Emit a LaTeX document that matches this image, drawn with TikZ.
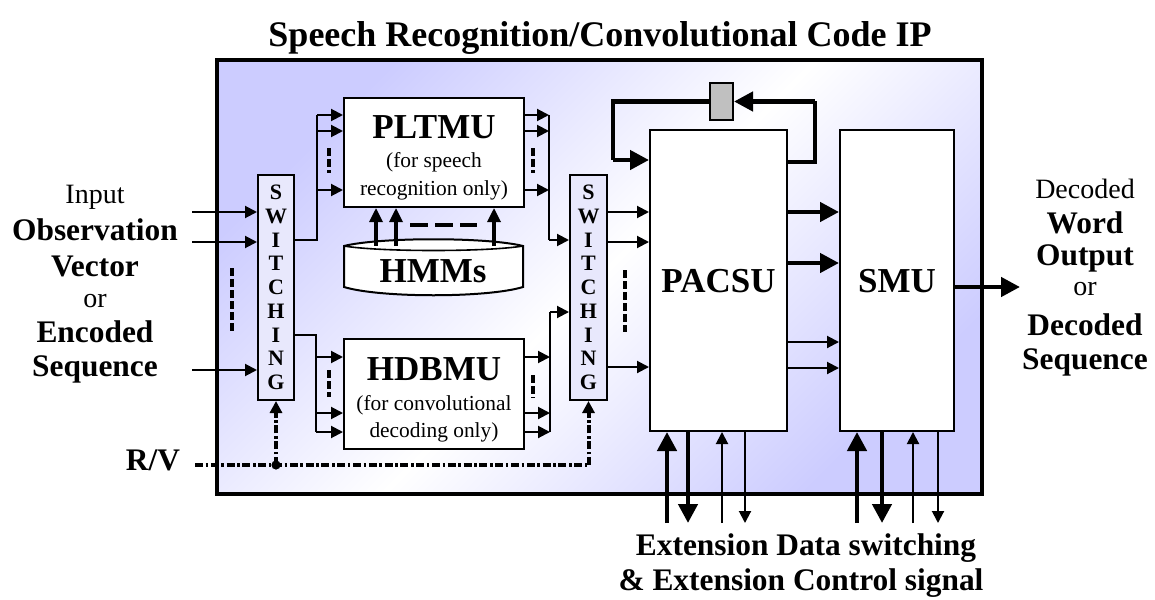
\documentclass[tikz,border=0pt]{standalone}
\usepackage{fontspec}
\setmainfont{Liberation Serif}
\usetikzlibrary{arrows.meta}
\definecolor{lav}{RGB}{204,204,255}
\definecolor{swfill}{RGB}{232,232,252}
\definecolor{regfill}{RGB}{192,192,192}
\tikzset{
  blk/.style={draw, line width=1pt, fill=white, inner sep=0pt},
  swbox/.style={draw, line width=1pt, fill=swfill, inner sep=0pt, align=center,
    font=\fontsize{11}{11.875}\selectfont\bfseries},
  wire/.style={line width=1pt},
  thinarr/.style={line width=1pt, -{Triangle[length=6pt,width=6pt]}},
  midarr/.style={line width=1.6pt, -{Triangle[length=7pt,width=6.5pt]}},
  thickarr/.style={line width=2.2pt, -{Triangle[length=9.5pt,width=9.5pt]}},
  thickwire/.style={line width=2.2pt},
  gap/.style={line width=1.6pt, dash pattern=on 4pt off 1.5pt},
  hgap/.style={line width=2pt, dash pattern=on 9pt off 3.5pt},
  ctrl/.style={line width=2pt, dash pattern=on 4pt off 1.3pt on 1.3pt off 1.3pt},
  ctrlarr/.style={ctrl, -{Triangle[length=6pt,width=6pt]}},
  lbl/.style={anchor=base, inner sep=0pt},
  bigb/.style={lbl, font=\fontsize{15.7}{18}\selectfont\bfseries},
  smallr/.style={lbl, font=\fontsize{14}{16}\selectfont},
  blockname/.style={lbl, font=\fontsize{17.5}{20}\selectfont\bfseries},
  note/.style={lbl, font=\fontsize{10.7}{12}\selectfont},
}
\begin{document}
\begin{tikzpicture}[x=0.5pt, y=-0.5pt]
\useasboundingbox (0,0) rectangle (1155,599);

% IP core frame with diagonal shading
\node[draw, line width=1.75pt, minimum width=382.5pt, minimum height=217pt, inner sep=0pt,
      top color=lav, bottom color=lav, middle color=white, shading angle=45]
      (ip) at (599.5,277) {};
\node[lbl, font=\fontsize{18}{20}\selectfont\bfseries] (title) at (600,47)
      {Speech Recognition/Convolutional Code IP};

% functional blocks
\node[blk, minimum width=90pt, minimum height=54.5pt] (pltmu) at (434,152.5) {};
\node[blk, minimum width=90pt, minimum height=55pt] (hdbmu) at (434,394) {};
\node[swbox, minimum width=18pt, minimum height=112.5pt] (sw1) at (276,287.5)
      {S\\W\\I\\T\\C\\H\\I\\N\\G};
\node[swbox, minimum width=18.5pt, minimum height=112.5pt] (sw2) at (588.5,287.5)
      {S\\W\\I\\T\\C\\H\\I\\N\\G};
\node[blk, minimum width=68.5pt, minimum height=150.5pt] (pacsu) at (718.5,280.5) {};
\node[blk, minimum width=57pt, minimum height=150.5pt] (smu) at (897,280.5) {};
\node[draw, line width=1pt, fill=regfill, minimum width=11.5pt, minimum height=18.5pt,
      inner sep=0pt] (reg) at (721.5,101.5) {};

% HMM store
\draw[line width=1pt, fill=white]
  (344,246) .. controls (380,237) and (487,237) .. (523,246)
  -- (523,287) .. controls (487,298) and (380,298) .. (344,287) -- cycle;
\draw[line width=0.8pt] (344,246) .. controls (380,252) and (487,252) .. (523,246);

% block labels
\node[blockname] at (434,138) {PLTMU};
\node[note] at (434,167) {(for speech};
\node[note] at (434,195) {recognition only)};
\node[blockname] at (434,380) {HDBMU};
\node[note] at (434,410) {(for convolutional};
\node[note] at (434,437) {decoding only)};
\node[blockname] (hmm) at (433,282) {HMMs};
\node[blockname] at (718.5,292) {PACSU};
\node[blockname] at (897,292) {SMU};

% external labels
\node[smallr] at (95,203) {Input};
\node[bigb] at (95,240) {Observation};
\node[bigb] at (95,276) {Vector};
\node[smallr] at (95,307) {or};
\node[bigb] at (95,342) {Encoded};
\node[bigb] at (95,376) {Sequence};
\node[bigb] (rv) at (153,470) {R/V};

\node[smallr] at (1085,198) {Decoded};
\node[bigb] at (1085,233) {Word};
\node[bigb] at (1085,265) {Output};
\node[smallr] at (1085,295) {or};
\node[bigb] at (1085,335) {Decoded};
\node[bigb] at (1085,369) {Sequence};

\node[bigb] at (806,555) {Extension Data switching};
\node[bigb] at (801,590) {\& Extension Control signal};

% inputs into the first switch
\coordinate (i1) at (192,212);
\coordinate (i2) at (192,242);
\coordinate (i3) at (192,370);
\draw[thinarr] (i1) -- (i1 -| sw1.west);
\draw[thinarr] (i2) -- (i2 -| sw1.west);
\draw[thinarr] (i3) -- (i3 -| sw1.west);
\draw[gap] (232,268) -- (232,332);

% switch -> PLTMU
\coordinate (la) at (317,240);
\coordinate (p1) at (317,115);
\coordinate (p2) at (317,131);
\coordinate (p3) at (317,190);
\draw[wire] (sw1.east |- la) -- (la) -- (p1);
\draw[thinarr] (p1) -- (p1 -| pltmu.west);
\draw[thinarr] (p2) -- (p2 -| pltmu.west);
\draw[thinarr] (p3) -- (p3 -| pltmu.west);
\draw[gap] (329,148) -- (329,173);

% PLTMU -> second switch
\coordinate (q1) at (549,115);
\coordinate (q2) at (549,131);
\coordinate (q3) at (549,190);
\coordinate (qa) at (549,240);
\draw[thinarr] (pltmu.east |- q1) -- (q1);
\draw[thinarr] (pltmu.east |- q2) -- (q2);
\draw[thinarr] (pltmu.east |- q3) -- (q3);
\draw[wire] (q1) -- (qa);
\draw[thinarr] (qa) -- (qa -| sw2.west);
\draw[gap] (533,148) -- (533,173);

% HMMs -> PLTMU
\coordinate (h1) at (376,246);
\coordinate (h2) at (396,246);
\coordinate (h3) at (494,246);
\draw[midarr] (h1) -- (h1 |- pltmu.south);
\draw[midarr] (h2) -- (h2 |- pltmu.south);
\draw[midarr] (h3) -- (h3 |- pltmu.south);
\draw[hgap] (410,225) -- (477,225);

% switch -> HDBMU
\coordinate (lb) at (316,335);
\coordinate (d1) at (316,357);
\coordinate (d2) at (316,413);
\coordinate (d3) at (316,432);
\draw[wire] (sw1.east |- lb) -- (lb) -- (d3);
\draw[thinarr] (d1) -- (d1 -| hdbmu.west);
\draw[thinarr] (d2) -- (d2 -| hdbmu.west);
\draw[thinarr] (d3) -- (d3 -| hdbmu.west);
\draw[gap] (329,370) -- (329,397);

% HDBMU -> second switch
\coordinate (e1) at (550,357);
\coordinate (e2) at (550,413);
\coordinate (e3) at (550,432);
\coordinate (eb) at (550,312);
\draw[thinarr] (hdbmu.east |- e1) -- (e1);
\draw[thinarr] (hdbmu.east |- e2) -- (e2);
\draw[thinarr] (hdbmu.east |- e3) -- (e3);
\draw[wire] (e3) -- (eb);
\draw[thinarr] (eb) -- (eb -| sw2.west);
\draw[gap] (533,375) -- (533,398);

% second switch -> PACSU
\coordinate (s1) at (620,212);
\coordinate (s2) at (620,242);
\coordinate (s3) at (620,367);
\draw[thinarr] (sw2.east |- s1) -- (s1 -| pacsu.west);
\draw[thinarr] (sw2.east |- s2) -- (s2 -| pacsu.west);
\draw[thinarr] (sw2.east |- s3) -- (s3 -| pacsu.west);
\draw[gap] (625,270) -- (625,332);

% R/V select line
\coordinate (rv0) at (195,465);
\coordinate (jn) at (sw1.south |- rv0);
\draw[ctrl] (rv0) -- (sw2.south |- rv0);
\draw[ctrlarr] (sw2.south |- rv0) -- (sw2.south);
\draw[ctrlarr] (jn) -- (sw1.south);
\fill (jn) circle (2.3pt);

% PACSU feedback through the register
\coordinate (fr) at (815,162);
\coordinate (fl) at (613,160);
\draw[thickwire] (pacsu.east |- fr) -- (fr) -- (fr |- reg.east);
\draw[thickarr] (fr |- reg.east) -- (reg.east);
\draw[thickwire] (reg.west) -- (fl |- reg.west) -- (fl);
\draw[thickarr] (fl) -- (fl -| pacsu.west);

% PACSU -> SMU
\coordinate (m1) at (800,212);
\coordinate (m2) at (800,263);
\coordinate (m3) at (800,342);
\coordinate (m4) at (800,368);
\draw[thickarr] (pacsu.east |- m1) -- (m1 -| smu.west);
\draw[thickarr] (pacsu.east |- m2) -- (m2 -| smu.west);
\draw[thinarr] (pacsu.east |- m3) -- (m3 -| smu.west);
\draw[thinarr] (pacsu.east |- m4) -- (m4 -| smu.west);

% decoded output
\coordinate (out) at (1020,287);
\draw[thickarr] (smu.east |- out) -- (out);

% extension data and control lines
\coordinate (a1) at (667,523);
\coordinate (a2) at (688,523);
\coordinate (a3) at (722,523);
\coordinate (a4) at (745,523);
\draw[thickarr] (a1) -- (a1 |- pacsu.south);
\draw[thickarr] (a2 |- pacsu.south) -- (a2);
\draw[thinarr] (a3) -- (a3 |- pacsu.south);
\draw[thinarr] (a4 |- pacsu.south) -- (a4);
\coordinate (b1) at (857,523);
\coordinate (b2) at (882,523);
\coordinate (b3) at (913,523);
\coordinate (b4) at (938,523);
\draw[thickarr] (b1) -- (b1 |- smu.south);
\draw[thickarr] (b2 |- smu.south) -- (b2);
\draw[thinarr] (b3) -- (b3 |- smu.south);
\draw[thinarr] (b4 |- smu.south) -- (b4);
\end{tikzpicture}
\end{document}
